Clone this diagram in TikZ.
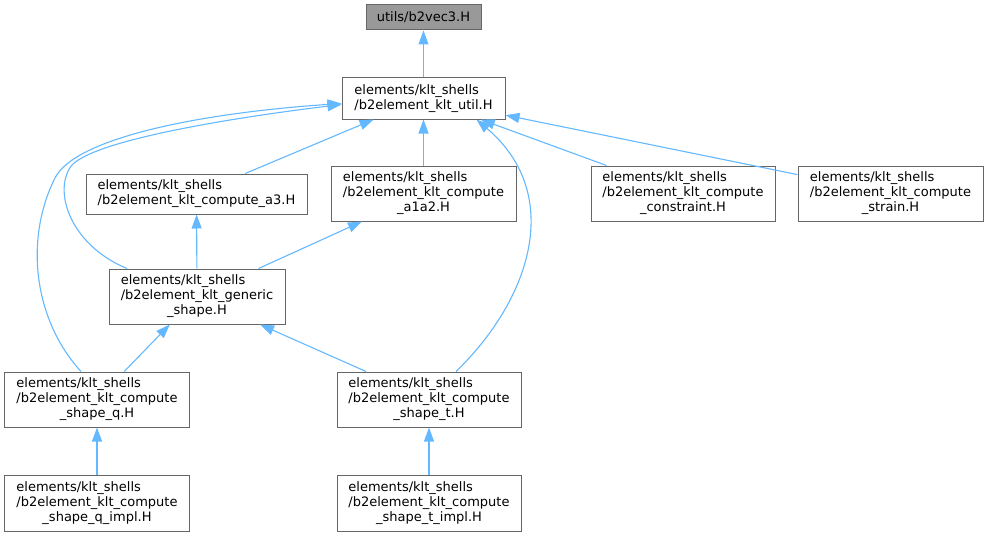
\documentclass[tikz,border=0pt]{standalone}
\usepackage{fontspec}
\setmainfont{DejaVu Sans}
\usepackage{xcolor}
\usetikzlibrary{arrows.meta}

\definecolor{depblue}{HTML}{63B8FF}
\definecolor{boxgray}{HTML}{666666}
\definecolor{rootgray}{HTML}{999999}

% file labels: all lines left, last one centred for three lines
\newcommand{\twoline}[2]{\begin{tabular}{@{}l@{}}#1\\#2\end{tabular}}
\newcommand{\threeline}[3]{\begin{tabular}{@{}l@{}}#1\\#2\\\multicolumn{1}{@{}c@{}}{#3}\end{tabular}}

\begin{document}
\begin{tikzpicture}[x=1pt,y=-1pt,
    hfile/.style={draw=boxgray, line width=1pt, fill=white, inner sep=0pt,
        minimum width=184, minimum height=55, font=\fontsize{13}{15}\selectfont},
    dep/.style={draw=depblue, line width=1.1pt, -{Triangle[length=14pt,width=10pt]}}]

        % Fix the page to the size of the graph
        \useasboundingbox (0,0) rectangle (988,535);

        % The included header on top
        \node[hfile, fill=rootgray, minimum width=115, minimum height=25] (vec3) at (423.5,17.5) {utils/b2vec3.H};
        \node[hfile, minimum width=163, minimum height=41] (util) at (423.5,98.5)
            {\twoline{elements/klt\_shells}{/b2element\_klt\_util.H}};

        % Files that include the util header
        \node[hfile, minimum width=221, minimum height=40] (a3) at (196.5,194)
            {\twoline{elements/klt\_shells}{/b2element\_klt\_compute\_a3.H}};
        \node[hfile, minimum width=185] (a1a2) at (423.5,193.5)
            {\threeline{elements/klt\_shells}{/b2element\_klt\_compute}{\_a1a2.H}};
        \node[hfile] (constr) at (683,193.5)
            {\threeline{elements/klt\_shells}{/b2element\_klt\_compute}{\_constraint.H}};
        \node[hfile, minimum width=185] (strain) at (890.5,193.5)
            {\threeline{elements/klt\_shells}{/b2element\_klt\_compute}{\_strain.H}};

        % Generic shape and the shape functions
        \node[hfile, minimum width=176] (generic) at (197,296.5)
            {\threeline{elements/klt\_shells}{/b2element\_klt\_generic}{\_shape.H}};
        \node[hfile, minimum width=185] (qshape) at (97,399.5)
            {\threeline{elements/klt\_shells}{/b2element\_klt\_compute}{\_shape\_q.H}};
        \node[hfile] (tshape) at (429,399.5)
            {\threeline{elements/klt\_shells}{/b2element\_klt\_compute}{\_shape\_t.H}};
        \node[hfile, minimum width=185, minimum height=56] (qimpl) at (97,503)
            {\threeline{elements/klt\_shells}{/b2element\_klt\_compute}{\_shape\_q\_impl.H}};
        \node[hfile, minimum height=56] (timpl) at (429,503)
            {\threeline{elements/klt\_shells}{/b2element\_klt\_compute}{\_shape\_t\_impl.H}};

        % Straight include edges
        \foreach \from/\to in {util/vec3, a3/util, a1a2/util, constr/util, strain/util,
                generic/a3, generic/a1a2, qshape/generic, tshape/generic,
                qimpl/qshape, timpl/tshape} {
            \draw[dep] (\from) -- (\to);
        }

        % Curved edges back up to the util header
        \draw[dep] ([xshift=-70pt]generic.north) .. controls (70,245) and (52,190) .. (72,165)
            .. controls (96,140) and (230,118) .. ([yshift=-6pt]util.west);
        \draw[dep] ([xshift=-16pt]qshape.north) .. controls (34,320) and (24,240) .. (55,178)
            .. controls (75,138) and (200,113) .. ([yshift=-5pt]util.west);
        \draw[dep] ([xshift=27pt]tshape.north) .. controls (530,300) and (565,195) .. ([xshift=53pt]util.south);
    \end{tikzpicture}
\end{document}
